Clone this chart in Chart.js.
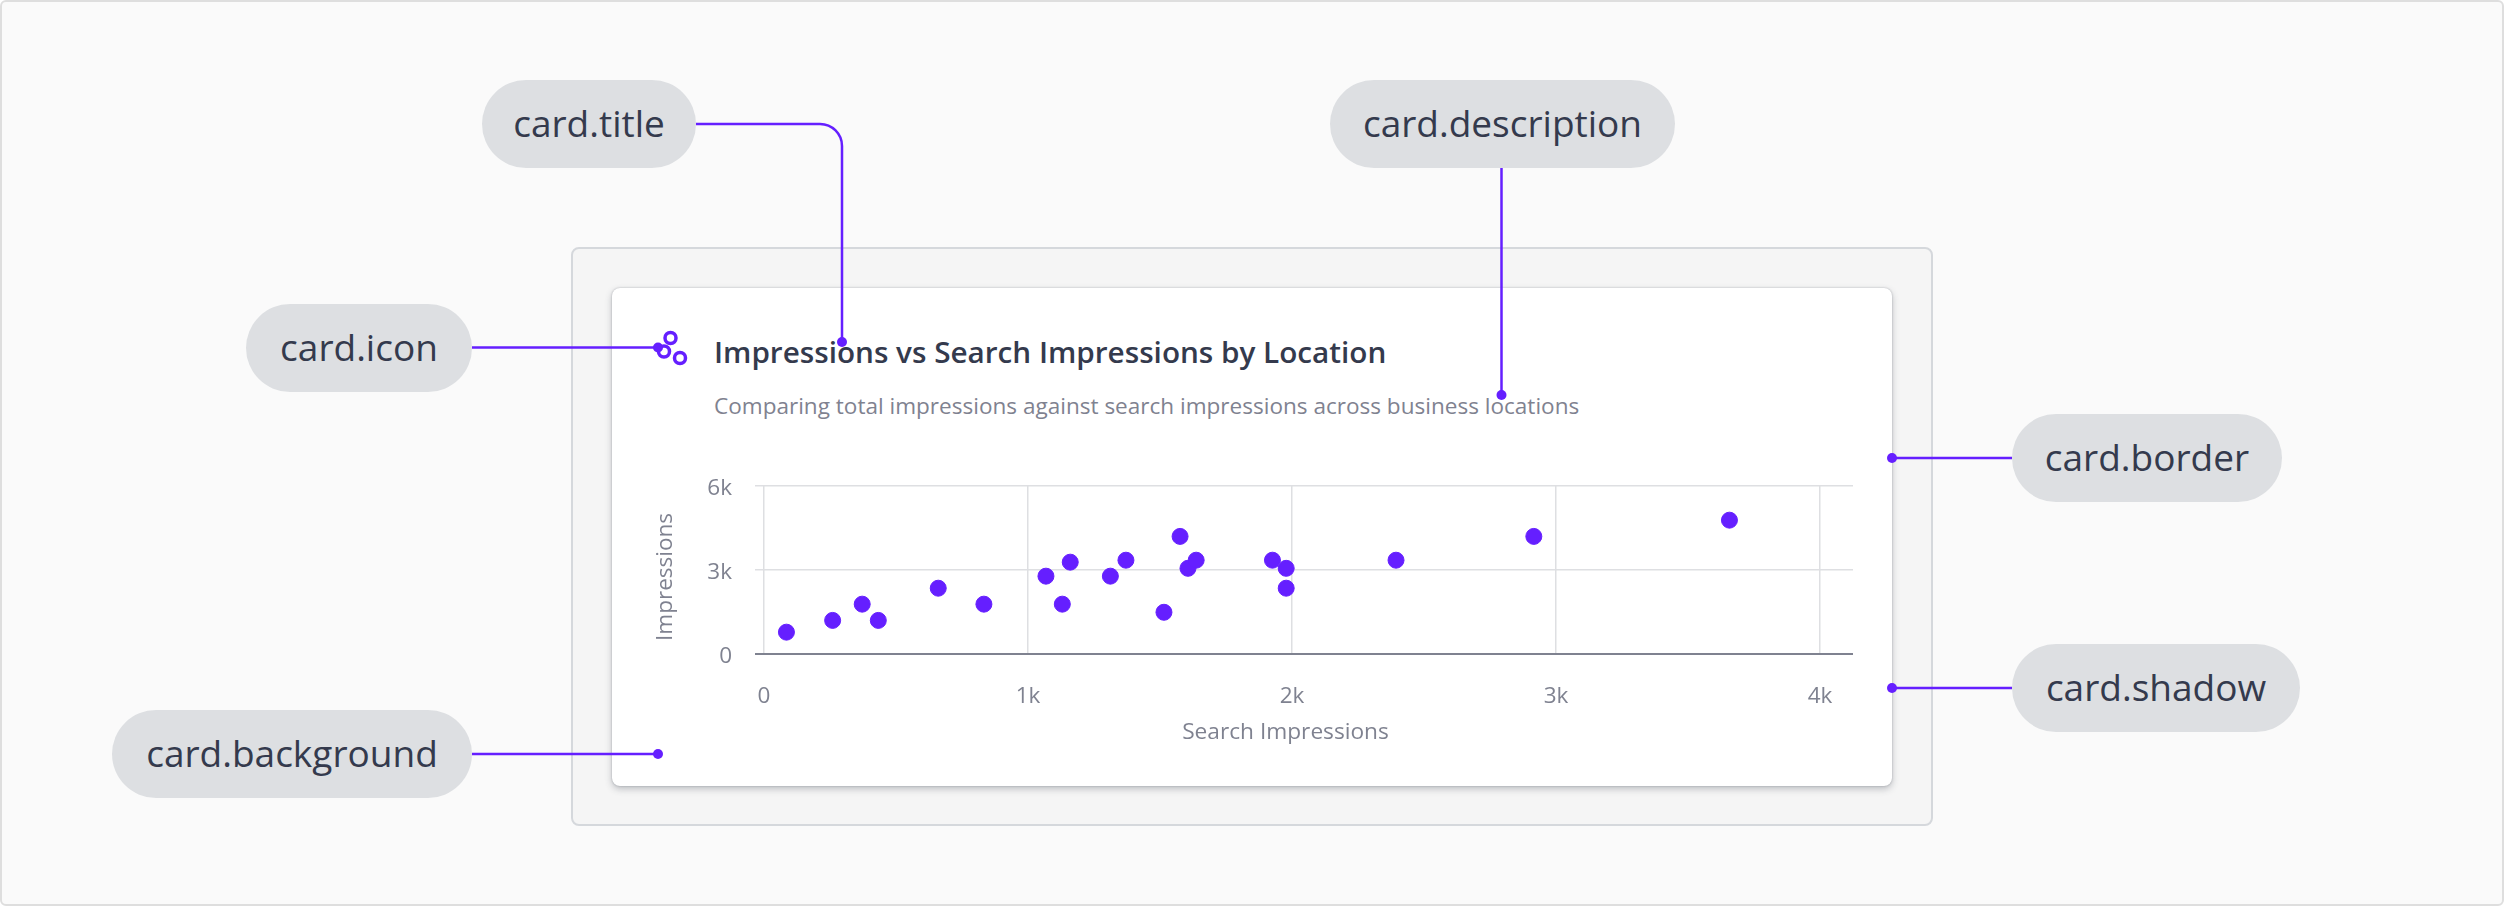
<!DOCTYPE html>
<html>
<head>
<meta charset="utf-8">
<script src="https://cdn.jsdelivr.net/npm/chart.js@4/dist/chart.umd.min.js"></script>
<style>
    html, body { margin: 0; padding: 0; width: 2504px; height: 906px; overflow: hidden; background: #fff; }
    body { font-family: "Open Sans", sans-serif; position: relative; font-variant-ligatures: none; }
    .frame { position: absolute; left: 0; top: 0; width: 2500px; height: 902px; background: #fafafa; border: 2px solid #dedede; border-radius: 6px; }
    .panel { position: absolute; left: 571px; top: 247px; width: 1358px; height: 575px; background: #f5f5f5; border: 2px solid #d5d8dc; border-radius: 8px; }
    .card { position: absolute; left: 612px; top: 288px; width: 1280px; height: 498px; background: #fff; border-radius: 8px;
            box-shadow: 0 0 2px rgba(60,65,80,.35), 0 3px 7px rgba(60,65,80,.3); }
    .card-title { position: absolute; left: 714px; top: 334px; font-size: 29.7px; line-height: 36px; font-weight: 600; color: #343a4d; white-space: nowrap; }
    .card-desc { position: absolute; left: 714px; top: 391px; font-size: 22.55px; line-height: 30px; color: #7f8290; white-space: nowrap; }
    #chart { position: absolute; left: 612px; top: 440px; }
    .pill { position: absolute; height: 88px; border-radius: 44px; background: #dddfe2; color: #343a4d; font-size: 37px; line-height: 86px; text-align: center; white-space: nowrap; }
    svg { position: absolute; left: 0; top: 0; }
</style>
</head>
<body>
<div class="frame"></div>
<div class="panel"></div>
<div class="card"></div>
<div class="card-title">Impressions vs Search Impressions by Location</div>
<div class="card-desc">Comparing total impressions against search impressions across business locations</div>
<canvas id="chart" width="1280" height="346"></canvas>

<div class="pill" style="left:482px;top:80px;width:214px">card.title</div>
<div class="pill" style="left:1330px;top:80px;width:345px">card.description</div>
<div class="pill" style="left:246px;top:304px;width:226px">card.icon</div>
<div class="pill" style="left:2012px;top:414px;width:270px">card.border</div>
<div class="pill" style="left:2012px;top:644px;width:288px">card.shadow</div>
<div class="pill" style="left:112px;top:710px;width:360px">card.background</div>

<svg width="2504" height="906" fill="none" stroke="#651fff" stroke-width="2.5">
    <path d="M696 124H820a22 22 0 0 1 22 22V342"/>
    <path d="M1501.5 168V395"/>
    <path d="M472 347.5H658"/>
    <path d="M1892 458H2012"/>
    <path d="M1892 688H2012"/>
    <path d="M472 754H658"/>
    <g stroke-width="3.5">
        <circle cx="670.5" cy="338" r="5.5"/>
        <circle cx="664" cy="351.5" r="5.5"/>
        <circle cx="680" cy="358" r="5.5"/>
    </g>
    <g fill="#651fff" stroke="none">
        <circle cx="842" cy="342" r="5"/>
        <circle cx="1501.5" cy="395" r="5"/>
        <circle cx="658" cy="347.5" r="5"/>
        <circle cx="1892" cy="458" r="5"/>
        <circle cx="1892" cy="688" r="5"/>
        <circle cx="658" cy="754" r="5"/>
    </g>
</svg>

<script>
// values
const searchImpressions = [85, 260, 372, 433, 660, 833, 1068, 1130, 1160, 1312, 1371, 1515, 1576, 1606, 1637, 1926, 1978, 1978, 2394, 2916, 3657];
const impressions = [780, 1200, 1780, 1200, 2350, 1780, 2780, 1780, 3280, 2780, 3350, 1490, 4200, 3060, 3350, 3350, 3060, 2350, 3350, 4200, 4780];
const xTicks = [0, 1000, 2000, 3000, 4000];
const yTicks = [0, 3000, 6000];
const tickLabel = v => v === 0 ? '0' : (v / 1000) + 'k';

const purple = '#651fff';
const gridColor = '#dedfe2';
const axisColor = '#7f8290';

const chart = new Chart(document.getElementById('chart'), {
    type: 'scatter',
    data: {
        datasets: [{
            data: searchImpressions.map((x, i) => ({ x: x, y: impressions[i] })),
            backgroundColor: purple,
            borderColor: purple,
            pointRadius: 8,
            pointHoverRadius: 8
        }]
    },
    options: {
        responsive: false,
        animation: false,
        layout: { padding: { top: 46, right: 39, bottom: 0, left: 0 } },
        plugins: { legend: { display: false }, tooltip: { enabled: false } },
        scales: {
            x: {
                type: 'linear',
                min: 0,
                max: 4125,
                afterFit: s => { s.height = 132; },
                afterBuildTicks: s => { s.ticks = xTicks.map(v => ({ value: v })); },
                border: { display: false },
                grid: { color: gridColor, lineWidth: 1.5, drawTicks: false },
                ticks: { color: axisColor, padding: 29, maxRotation: 0, font: { family: 'Open Sans', size: 22.5 }, callback: tickLabel },
                title: { display: true, text: 'Search Impressions', color: axisColor, font: { family: 'Open Sans', size: 22.7 }, padding: { top: 0, bottom: 40 } }
            },
            y: {
                min: 0,
                max: 6000,
                afterFit: s => { s.width = 152; },
                afterBuildTicks: s => { s.ticks = yTicks.map(v => ({ value: v })); },
                border: { display: false },
                grid: {
                    color: c => c.tick.value === 0 ? axisColor : gridColor,
                    lineWidth: c => c.tick.value === 0 ? 2 : 1.5,
                    tickLength: 9
                },
                ticks: { color: axisColor, padding: 23, font: { family: 'Open Sans', size: 22.5 }, callback: tickLabel },
                title: { display: true, text: 'Impressions', color: axisColor, font: { family: 'Open Sans', size: 22.5 }, padding: { top: 40, bottom: 0 } }
            }
        }
    }
});

// the reference's axis text sits a few px off the scale centres
function nudge(scale, method, dx, dy) {
    const original = scale[method];
    scale[method] = function () {
        this.ctx.save();
        this.ctx.translate(dx, dy);
        original.apply(this, arguments);
        this.ctx.restore();
    };
}
nudge(chart.scales.x, 'drawTitle', -23, 0);
nudge(chart.scales.y, 'drawTitle', 0, 7);
nudge(chart.scales.y, 'drawLabels', 0, 3);
chart.draw();
</script>
</body>
</html>
